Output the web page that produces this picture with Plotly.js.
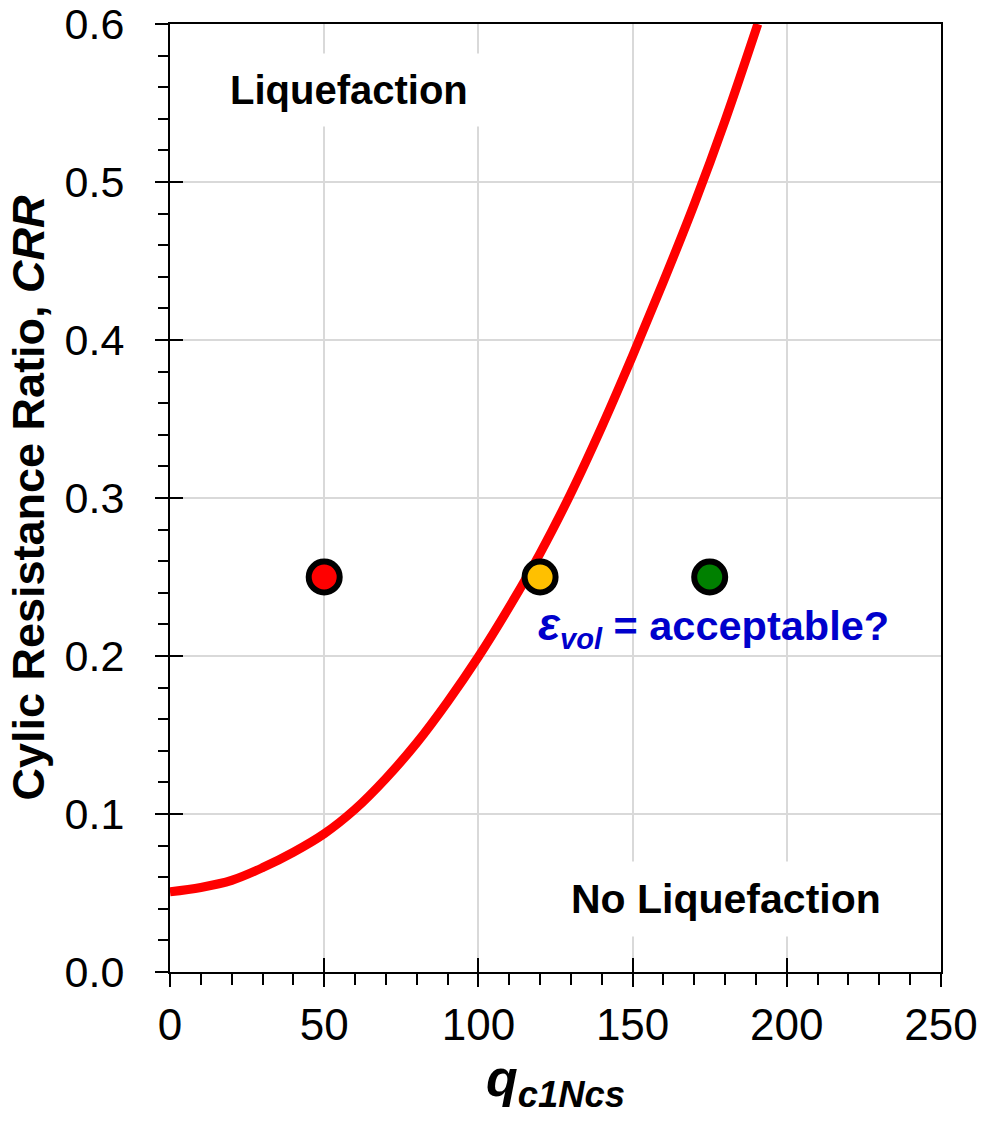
<!DOCTYPE html>
<html>
<head>
<meta charset="utf-8">
<script src="https://cdn.plot.ly/plotly-3.0.1.min.js"></script>
<style>html,body{margin:0;padding:0;background:#fff;}#chart{width:984px;height:1126px;}</style>
</head>
<body>
<div id="chart"></div>
<script>
// CRR curve
const qCurve   = [0, 10, 20, 30, 40, 50, 60, 70, 80, 90, 100, 110, 120, 130, 140, 150, 160, 170, 180, 190.6];
const crrCurve = [0.0507, 0.0535, 0.058, 0.066, 0.0758, 0.0875, 0.103, 0.1225, 0.145, 0.171, 0.1995, 0.231, 0.265, 0.303, 0.345, 0.39, 0.437, 0.486, 0.539, 0.6];

// Three example points
const pointQ      = [50, 120, 175];
const pointCRR    = [0.25, 0.25, 0.25];
const pointColors = ['#FF0000', '#FFC000', '#008000'];

const xTickVals = [0, 50, 100, 150, 200, 250];
const yTickVals = [0, 0.1, 0.2, 0.3, 0.4, 0.5, 0.6];

const FONT = 'Liberation Sans, Arial, Helvetica, sans-serif';

const traces = [
  {
    x: qCurve, y: crrCurve, type: 'scatter', mode: 'lines',
    line: {color: '#FF0000', width: 9, shape: 'spline', smoothing: 1},
    hoverinfo: 'skip', showlegend: false
  },
  {
    x: pointQ, y: pointCRR, type: 'scatter', mode: 'markers',
    marker: {size: 31, color: pointColors, line: {color: '#000000', width: 6}},
    showlegend: false
  },
  {
    x: [null], y: [null], xaxis: 'x2', yaxis: 'y2', type: 'scatter', mode: 'markers',
    showlegend: false, hoverinfo: 'skip'
  }
];

const layout = {
  width: 984, height: 1126,
  margin: {l: 170, r: 43, t: 24, b: 154},
  paper_bgcolor: '#ffffff', plot_bgcolor: '#ffffff',
  showlegend: false,
  font: {family: FONT, color: '#000000'},
  xaxis: {
    range: [0, 250], tickvals: xTickVals, ticktext: xTickVals.map(String),
    showgrid: true, gridcolor: '#d9d9d9', gridwidth: 2, zeroline: false,
    showline: true, linecolor: '#000000', linewidth: 2, mirror: true,
    ticks: 'outside', ticklen: 13, tickwidth: 2, tickcolor: '#000000',
    minor: {dtick: 10, tick0: 0, ticks: 'outside', ticklen: 11, tickwidth: 2, tickcolor: '#000000', showgrid: false},
    tickfont: {family: FONT, size: 44, color: '#000000'},
    title: {text: 'q<sub>c1Ncs</sub>', font: {family: FONT, size: 52, weight: 'bold', style: 'italic', color: '#000000'}, standoff: 6}
  },
  yaxis: {
    range: [0, 0.6], tickvals: yTickVals, ticktext: yTickVals.map(v => v.toFixed(1)),
    showgrid: true, gridcolor: '#d9d9d9', gridwidth: 2, zeroline: false,
    showline: true, linecolor: '#000000', linewidth: 2, mirror: true,
    ticks: 'outside', ticklen: 13, tickwidth: 2, tickcolor: '#000000',
    minor: {dtick: 0.02, tick0: 0, ticks: 'outside', ticklen: 10, tickwidth: 2, tickcolor: '#000000', showgrid: false},
    tickfont: {family: FONT, size: 43, color: '#000000'},
    ticklabelstandoff: 22,
    title: {text: 'Cylic Resistance Ratio, <i>CRR</i>', font: {family: FONT, size: 45, weight: 'bold', color: '#000000'}, standoff: 6}
  },
  xaxis2: {
    overlaying: 'x', matches: 'x', anchor: 'y2', side: 'bottom', range: [0, 250],
    tickvals: xTickVals, ticks: 'inside', ticklen: 14, tickwidth: 2, tickcolor: '#000000',
    showticklabels: false, showgrid: false, showline: false, zeroline: false
  },
  yaxis2: {
    overlaying: 'y', matches: 'y', anchor: 'x2', side: 'left', range: [0, 0.6],
    tickvals: yTickVals, ticks: 'inside', ticklen: 13, tickwidth: 2, tickcolor: '#000000',
    showticklabels: false, showgrid: false, showline: false, zeroline: false
  },
  annotations: [
    {
      x: 57.9, y: 0.558, xref: 'x', yref: 'y', showarrow: false,
      text: '<b>Liquefaction</b>', font: {family: FONT, size: 40, color: '#000000'},
      bgcolor: '#ffffff', borderpad: 14
    },
    {
      x: 180.2, y: 0.046, xref: 'x', yref: 'y', showarrow: false,
      text: '<b>No Liquefaction</b>', font: {family: FONT, size: 41, color: '#000000'},
      bgcolor: '#ffffff', borderpad: 14
    },
    {
      x: 118.8, y: 0.2185, xref: 'x', yref: 'y', showarrow: false, xanchor: 'left', yanchor: 'middle',
      text: '<b><span style="font-size:46px"><i>ε</i></span><sub><i>vol</i></sub> = acceptable?</b>', font: {family: FONT, size: 41.5, color: '#0000CC'}
    }
  ]
};

Plotly.newPlot('chart', traces, layout, {displayModeBar: false, staticPlot: true});
</script>
</body>
</html>
